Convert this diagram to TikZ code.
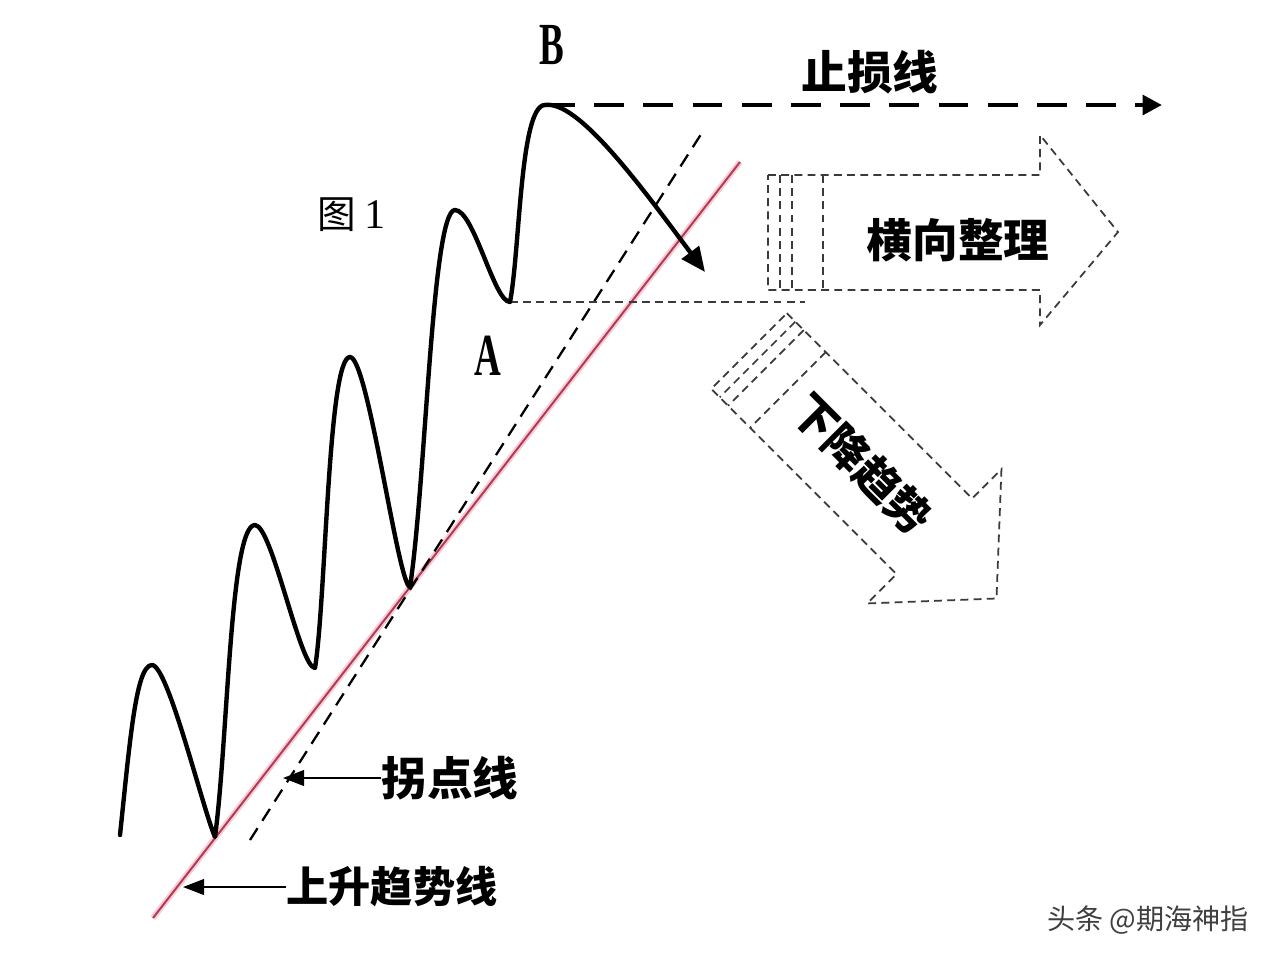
\documentclass[tikz,border=0pt]{standalone}
\usepackage{fontspec}
\setmainfont{Liberation Serif}
\newfontfamily\cjk{Noto Sans CJK SC}
\usetikzlibrary{arrows.meta}
\definecolor{trendCol}{HTML}{B03A55}
\definecolor{haloCol}{HTML}{F6CCD6}
\definecolor{boxEdge}{HTML}{3A3A3A}
\definecolor{markCol}{HTML}{404040}
\tikzset{
  wave/.style={line width=2.5pt, line cap=round, line join=round},
  trend/.style={trendCol, line width=1.1pt},
  halo/.style={haloCol, line width=3.4pt},
  pivot/.style={dash pattern=on 8pt off 5pt, line width=1.3pt},
  thindash/.style={boxEdge, dash pattern=on 4.5pt off 3pt, line width=1pt},
  stopline/.style={dash pattern=on 17pt off 11pt, line width=2.6pt,
        -{Triangle[length=11pt, width=11pt]}},
  ptr/.style={line width=0.9pt, -{Triangle[length=12pt, width=9pt]}},
  lab/.style={font=\cjk\bfseries\fontsize{26}{26}\selectfont, inner sep=0pt},
  letter/.style={font=\bfseries\fontsize{34}{34}\selectfont, inner sep=0pt},
}

\begin{document}
\begin{tikzpicture}[x=0.02cm, y=-0.02cm]
  \useasboundingbox[fill=white] (0,0) rectangle (1280,961);
  % --- turning points of the price curve ---
  \coordinate (s0) at (120,835);
  \coordinate (p1) at (152,665);
  \coordinate (t1) at (215,837);
  \coordinate (p2) at (255,525);
  \coordinate (t2) at (315,668);
  \coordinate (p3) at (350,357);
  \coordinate (t3) at (410,587);
  \coordinate (p4) at (455,210);
  \coordinate (A)  at (510,302);
  \coordinate (B)  at (545,105);
  \coordinate (drop) at (705,272);
  % --- trend line + pivot line ---
  \coordinate (tr0) at (153,918);
  \coordinate (tr1) at (740,162);
  \draw[halo] (tr0) -- (tr1);
  \draw[trend] (tr0) -- (tr1);
  \coordinate (pv0) at (250,840);
  \coordinate (pv1) at (705,128);
  \draw[pivot] (pv0) -- (pv1);
  % --- level of A ---
  \coordinate (aEnd) at (805,302);
  \draw[thindash] (A) -- (aEnd);
  % --- price curve ---
  \draw[wave] (s0) .. controls (130,740) and (136,665) .. (p1)
    .. controls (168,665) and (203,810) .. (t1)
    .. controls (228,740) and (230,525) .. (p2)
    .. controls (272,525) and (300,668) .. (t2)
    .. controls (326,600) and (328,357) .. (p3)
    .. controls (368,357) and (398,585) .. (t3)
    .. controls (426,480) and (432,210) .. (p4)
    .. controls (474,210) and (494,302) .. (A)
    .. controls (520,250) and (520,105) .. (B);
  \draw[wave, -{Triangle[length=14pt, width=12pt]}] (B)
    .. controls (578,100) and (640,185) .. (drop);
  % --- stop loss ---
  \coordinate (sEnd) at (1162,105);
  \draw[stopline] (B) -- (sEnd);
  \node[lab] (stop) at (870,72) {止损线};
  \node[letter] (labB) at (552,45) {\scalebox{0.62}[1]{B}};
  \node[letter] (labA) at (488,356) {\scalebox{0.62}[1]{A}};
  \node[font=\cjk\fontsize{22}{22}\selectfont, inner sep=0pt] (fig) at (337,215) {图};
  \node[font=\fontsize{24}{24}\selectfont, inner sep=0pt, anchor=west] (figno) at (fig.east) {\,1};
  % --- sideways arrow ---
  \draw[thindash] (768,175) -- (1040,175) -- (1040,135) -- (1118,232)
    -- (1040,325) -- (1040,290) -- (768,290) -- cycle;
  \foreach \xx in {780,792,823} \draw[thindash] (\xx,175) -- (\xx,290);
  \node[lab] (side) at (958,240) {横向整理};
  % --- downtrend arrow ---
  \begin{scope}[shift={(749,351)}, rotate=-45]
    \draw[thindash] (0,-53.5) -- (262,-53.5) -- (262,-95) -- (350,0)
      -- (262,95) -- (262,53.5) -- (0,53.5) -- cycle;
    \foreach \xx in {12,24,55} \draw[thindash] (\xx,-53.5) -- (\xx,53.5);
    \node[lab, font=\cjk\bfseries\fontsize{25}{25}\selectfont, rotate=-45] (down) at (160,0) {下降趋势};
  \end{scope}
  % --- line labels ---
  \node[lab] (guai) at (450,778) {拐点线};
  \coordinate (guaiTip) at (283,778);
  \draw[ptr] (guai.west) -- (guaiTip);
  \node[lab, font=\cjk\bfseries\fontsize{24}{24}\selectfont] (rise) at (392,887) {上升趋势线};
  \coordinate (riseTip) at (183,887);
  \draw[ptr] (rise.west) -- (riseTip);
  % --- watermark ---
  \node[font=\cjk\fontsize{16}{16}\selectfont, text=markCol, inner sep=0pt] (mark) at (1148,920) {头条 @期海神指};
\end{tikzpicture}
\end{document}
